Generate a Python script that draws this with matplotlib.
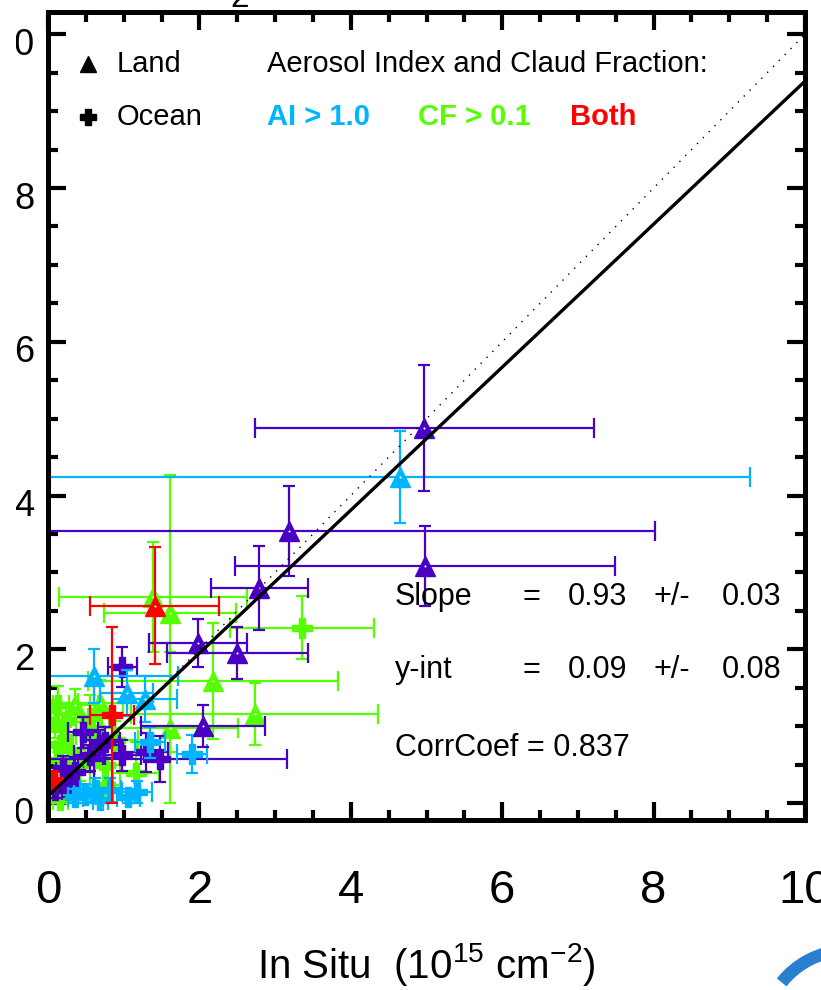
import numpy as np
import matplotlib
matplotlib.use("Agg")
import matplotlib.pyplot as plt
from matplotlib import transforms
from matplotlib.patches import Rectangle, Arc

plt.rcParams['font.family'] = ['Liberation Sans', 'DejaVu Sans']

# rows: x, y, x error, y error  (10^15 cm^-2)
land_plain = [[4.97, 4.88, 2.24, 0.82], [3.18, 3.54, 4.84, 0.58], [4.98, 3.09, 2.51, 0.52],
              [2.79, 2.80, 0.64, 0.55], [1.98, 2.08, 0.65, 0.31], [2.50, 1.95, 0.93, 0.34],
              [2.05, 1.00, 0.82, 0.27]]
ocean_plain = [[0.98, 1.77, 0.19, 0.26], [0.46, 0.92, 0.20, 0.20], [0.98, 0.62, 0.25, 0.20],
               [1.29, 0.66, 0.30, 0.25], [1.48, 0.57, 1.68, 0.30], [0.20, 0.46, 0.20, 0.15],
               [0.36, 0.40, 0.25, 0.20], [0.55, 0.62, 0.20, 0.20], [0.09, 0.17, 0.10, 0.10],
               [0.75, 0.79, 0.20, 0.20], [0.26, 0.23, 0.15, 0.15], [0.69, 0.75, 0.25, 0.20]]
land_ai = [[4.65, 4.24, 4.63, 0.60], [0.61, 1.65, 1.11, 0.35], [1.04, 1.43, 0.35, 0.30],
           [1.28, 1.35, 0.43, 0.30]]
ocean_ai = [[1.35, 0.79, 0.20, 0.20], [1.90, 0.64, 0.20, 0.25], [0.49, 0.10, 0.15, 0.15],
            [0.62, 0.17, 0.20, 0.15], [0.36, 0.08, 0.10, 0.10], [1.18, 0.14, 0.20, 0.15],
            [0.82, 0.17, 0.15, 0.15], [1.06, 0.08, 0.15, 0.10], [0.69, 0.04, 0.10, 0.10]]
land_cf = [[1.39, 2.68, 1.24, 0.72], [1.61, 2.47, 0.87, 1.80], [2.18, 1.59, 1.65, 0.75],
           [2.73, 1.16, 1.63, 0.40], [1.61, 0.98, 0.90, 0.98], [0.36, 1.27, 0.30, 0.22],
           [0.69, 1.30, 0.30, 0.30], [0.09, 1.05, 0.10, 0.20], [0.18, 0.79, 0.15, 0.20],
           [0.05, 1.14, 0.10, 0.20]]
ocean_cf = [[3.36, 2.28, 0.95, 0.41], [1.16, 0.39, 0.30, 0.40], [0.12, 0.56, 0.15, 0.20],
            [0.29, 0.69, 0.20, 0.20], [0.22, 0.30, 0.15, 0.20], [0.42, 0.49, 0.20, 0.20],
            [0.75, 0.23, 0.20, 0.20], [0.16, 0.04, 0.10, 0.10], [0.13, 1.27, 0.15, 0.25],
            [0.24, 1.05, 0.20, 0.25], [0.55, 1.11, 0.25, 0.30], [0.16, 0.75, 0.15, 0.20],
            [0.62, 0.88, 0.25, 0.25], [0.75, 0.49, 0.20, 0.25], [0.29, 0.17, 0.15, 0.15],
            [0.89, 0.82, 0.30, 0.25]]
land_both = [[1.41, 2.57, 0.85, 0.76]]
ocean_both = [[0.85, 1.14, 0.29, 1.15], [0.07, 0.30, 0.05, 0.10]]

slope, slope_err = 0.93, 0.03
yint, yint_err = 0.09, 0.08
corr = 0.837

purple = '#4a00c4'
cyan = '#00b4ff'
green = '#55ff00'
red = '#ff0000'


def draw_group(ax, rows, color, marker, ms):
    a = np.array(rows, dtype=float)
    x, y, xe, ye = a.T
    # lower bars stop at zero, like the original plot
    ax.errorbar(x, y, xerr=[np.minimum(xe, x), xe], fmt='none', ecolor=color,
                elinewidth=1.6, capsize=7, capthick=1.6)
    ax.errorbar(x, y, yerr=[np.minimum(ye, y), ye], fmt='none', ecolor=color,
                elinewidth=1.6, capsize=4, capthick=1.6)
    ax.plot(x, y, ls='none', marker=marker, ms=ms, color=color, mec=color)
    if marker == '^':
        ax.plot(x, y, ls='none', marker='o', ms=1.5, color='white', mew=0)


fig = plt.figure(figsize=(8.21, 9.90), dpi=100)
ax = fig.add_axes([48 / 821, 170 / 990, 757 / 821, 808 / 990])

draw_group(ax, land_cf, green, '^', 15)
draw_group(ax, ocean_cf, green, 'P', 15)
draw_group(ax, ocean_plain, purple, 'P', 15)
draw_group(ax, land_ai, cyan, '^', 15)
draw_group(ax, ocean_ai, cyan, 'P', 15)
draw_group(ax, land_plain, purple, '^', 15)
draw_group(ax, land_both, red, '^', 15)
draw_group(ax, ocean_both, red, 'P', 15)

xs = np.array([0, 10])
ax.plot(xs, xs, color='black', lw=1.0, ls=(0, (1, 5)), zorder=5)
ax.plot(xs, yint + slope * xs, color='black', lw=2.4, zorder=6)

ax.set_xlim(0, 10)
ax.set_ylim(-0.22, 10.29)
ax.set_xticks(range(0, 11, 2))
ax.set_yticks(range(0, 11, 2))
ax.xaxis.set_minor_locator(plt.MultipleLocator(0.5))
ax.yaxis.set_minor_locator(plt.MultipleLocator(0.5))
for s in ax.spines.values():
    s.set_linewidth(3.6)
ax.tick_params(which='both', direction='in', top=True, right=True, width=3)
ax.tick_params(which='major', length=13)
ax.tick_params(which='minor', length=7)
ax.tick_params(axis='x', labelsize=34, pad=35)
ax.tick_params(axis='y', labelsize=26, pad=10)
shift = transforms.ScaledTranslation(0, -0.07, fig.dpi_scale_trans)
for lab in ax.get_yticklabels():
    lab.set_transform(lab.get_transform() + shift)

ax.set_xlabel(r'In Situ  (10$^{\mathregular{15}}$ cm$^{\mathregular{-2}}$)', fontsize=29)
ax.xaxis.set_label_coords(0.5, -0.15)

# legend block
ax.plot([0.53], [9.62], marker='^', ms=11, color='black', ls='none')
ax.plot([0.53], [8.92], marker='P', ms=11, color='black', ls='none')
ax.text(0.91, 9.62, 'Land', fontsize=21, va='center')
ax.text(0.91, 8.92, 'Ocean', fontsize=21, va='center')
ax.text(2.89, 9.62, 'Aerosol Index and Claud Fraction:', fontsize=21, va='center')
ax.text(2.89, 8.92, 'AI > 1.0', fontsize=21, va='center', color=cyan, fontweight='bold')
ax.text(4.89, 8.92, 'CF > 0.1', fontsize=21, va='center', color=green, fontweight='bold')
ax.text(6.90, 8.92, 'Both', fontsize=21, va='center', color=red, fontweight='bold')

# fit statistics
for yy, name, val, err in [(2.68, 'Slope', slope, slope_err), (1.73, 'y-int', yint, yint_err)]:
    ax.text(4.58, yy, name, fontsize=22, va='center')
    ax.text(6.38, yy, '=', fontsize=22, va='center', ha='center')
    ax.text(6.87, yy, f'{val:.2f}', fontsize=22, va='center')
    ax.text(8.24, yy, '+/-', fontsize=22, va='center', ha='center')
    ax.text(8.90, yy, f'{err:.2f}', fontsize=22, va='center')
ax.text(4.58, 0.72, f'CorrCoef = {corr:.3f}', fontsize=22, va='center')

# leftovers of the cropped screenshot
fig.text(240 / 821, 1 - 7 / 990, '2', fontsize=24, ha='center', va='baseline')
fig.add_artist(Rectangle((0, 0), 16 / 821, 1, transform=fig.transFigure,
                         facecolor='white', edgecolor='none', zorder=10))
fig.add_artist(Arc((850 / 821, -40 / 990), 170 / 821, 160 / 990, theta1=95, theta2=150,
                   transform=fig.transFigure, color='#2a7fd0', lw=9, zorder=10))

fig.savefig('out.png', dpi=100)
